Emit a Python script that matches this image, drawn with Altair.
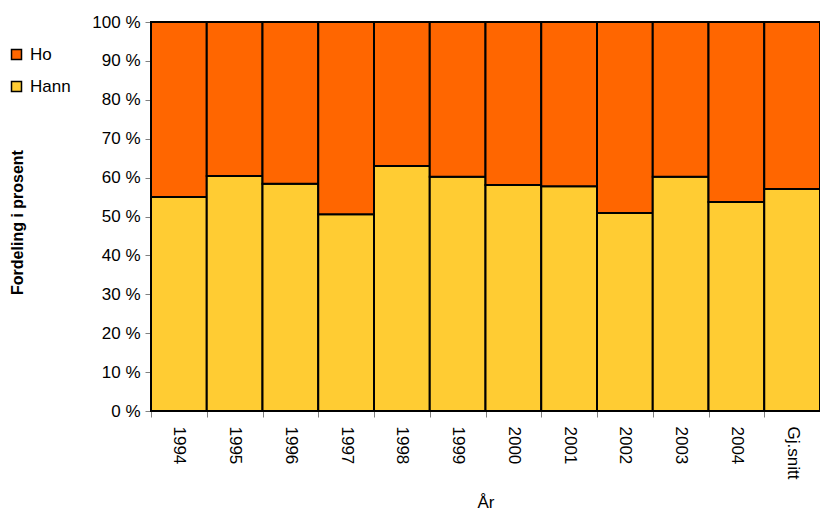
import altair as alt
import pandas as pd

years = ["1994", "1995", "1996", "1997", "1998", "1999", "2000", "2001", "2002", "2003", "2004", "Gj.snitt"]
hann = [55.0, 60.4, 58.4, 50.6, 63.0, 60.2, 58.1, 57.8, 50.9, 60.2, 53.7, 57.1]
ho = [round(100 - v, 1) for v in hann]

rows = []
for y, h, o in zip(years, hann, ho):
    rows.append({"År": y, "Kjønn": "Hann", "Prosent": h, "ord": 0})
    rows.append({"År": y, "Kjønn": "Ho", "Prosent": o, "ord": 1})
df = pd.DataFrame(rows)

FONT = "Liberation Sans"

chart = alt.Chart(df).mark_bar(stroke="black", strokeWidth=2, opacity=1).encode(
    x=alt.X("År:N", sort=years, scale=alt.Scale(paddingInner=0, paddingOuter=0),
            axis=alt.Axis(title="År", labelAngle=90, labelAlign="left", labelBaseline="middle",
                          labelPadding=9, tickBand="extent", tickSize=6, tickColor="#808080",
                          domainColor="#808080", labelFont=FONT, labelFontSize=17,
                          titleFont=FONT, titleFontSize=17, titleFontWeight="normal",
                          titlePadding=16, labelColor="black", titleColor="black")),
    y=alt.Y("Prosent:Q", stack="zero", scale=alt.Scale(domain=[0, 100], nice=False),
            axis=alt.Axis(title="Fordeling i prosent", values=list(range(0, 101, 10)),
                          labelExpr="datum.value + ' %'", grid=False, tickSize=6,
                          tickColor="#808080", domainColor="#808080", labelFont=FONT,
                          labelFontSize=17, labelPadding=5, labelColor="black",
                          titleFont=FONT, titleFontSize=16, titleFontWeight="bold",
                          titleColor="black", titleX=-134, titleY=200,
                          titleBaseline="middle", titleAngle=-90)),
    color=alt.Color("Kjønn:N", scale=alt.Scale(domain=["Ho", "Hann"], range=["#FF6600", "#FFCC33"]),
                    legend=alt.Legend(title=None, orient="none", legendX=-143, legendY=24,
                                      symbolType="square", symbolSize=100, symbolStrokeColor="black",
                                      symbolStrokeWidth=1.5, symbolOpacity=1, labelFont=FONT,
                                      labelFontSize=17, labelColor="black", rowPadding=14,
                                      labelOffset=5)),
    order=alt.Order("ord:Q", sort="ascending"),
).properties(
    width=669, height=389,
    autosize=alt.AutoSizeParams(type="none"),
    padding={"left": 143, "top": 14, "right": 0, "bottom": 104},
).configure_view(stroke=None)

chart.save("out.html", embed_options={"renderer": "svg", "actions": False})
